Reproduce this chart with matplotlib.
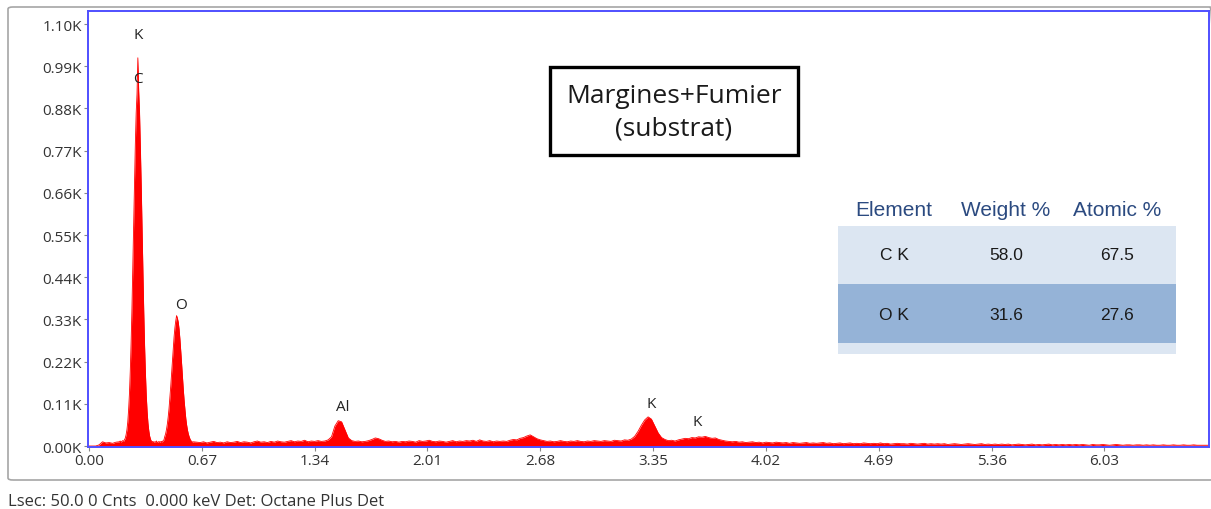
import numpy as np
import matplotlib
matplotlib.use("Agg")
import matplotlib.pyplot as plt
from matplotlib.patches import Rectangle, FancyBboxPatch

# ---------------- data ----------------
# spectrum segments: (start keV, step keV, counts in K)
seg1_start, seg1_step = 0.00, 0.02
seg1_counts = [0, 0, 0, 0.003, 0.011, 0.008, 0.009, 0.007, 0.010]

seg2_start, seg2_step = 0.18, 0.005
seg2_counts = [
    0.011, 0.013, 0.010, 0.012, 0.014, 0.012, 0.016, 0.020, 0.029, 0.042,
    0.062, 0.094, 0.136, 0.195, 0.270, 0.360, 0.462, 0.575, 0.685, 0.786,
    0.868, 0.918, 1.012, 0.925, 0.870, 0.780, 0.680, 0.568, 0.455, 0.352,
    0.262, 0.190, 0.132, 0.090, 0.060, 0.040, 0.026, 0.018, 0.013, 0.011,
    0.012, 0.009, 0.011, 0.010, 0.013, 0.010, 0.009, 0.012, 0.010, 0.011,
    0.012, 0.010, 0.014, 0.016,
    0.025, 0.032, 0.043, 0.057, 0.075, 0.097, 0.124, 0.154, 0.186, 0.221,
    0.254, 0.284, 0.308, 0.326, 0.340, 0.333, 0.323, 0.304, 0.278, 0.247,
    0.214, 0.180, 0.147, 0.118, 0.093, 0.071, 0.054, 0.041, 0.031, 0.024,
    0.018, 0.014, 0.012, 0.010, 0.011,
]

seg3_start, seg3_step = 0.64, 0.02
seg3_counts = [
    0.010, 0.009, 0.011, 0.008, 0.010, 0.012, 0.009, 0.010, 0.008, 0.011,
    0.009, 0.010, 0.012, 0.009, 0.011, 0.010, 0.008, 0.011, 0.013, 0.010,
    0.011, 0.009, 0.012, 0.010, 0.013, 0.011, 0.010, 0.012, 0.014, 0.011,
    0.013, 0.012, 0.015, 0.011, 0.013, 0.012, 0.014, 0.012, 0.013, 0.016,
    0.024, 0.052, 0.066, 0.063, 0.042, 0.021, 0.014, 0.012, 0.013, 0.011,
    0.012, 0.014, 0.017, 0.021, 0.019, 0.015, 0.012, 0.013, 0.011, 0.012,
    0.010, 0.012, 0.011, 0.013, 0.012, 0.010, 0.014, 0.012, 0.013, 0.015,
    0.012, 0.011, 0.013, 0.012, 0.010, 0.012, 0.014, 0.011, 0.013, 0.012,
    0.014, 0.013, 0.015, 0.012, 0.016, 0.013, 0.012, 0.014, 0.011, 0.013,
    0.012, 0.013, 0.012, 0.015, 0.017, 0.016, 0.020, 0.022, 0.026, 0.029,
    0.024, 0.019, 0.016, 0.014, 0.012, 0.013, 0.011, 0.012, 0.014, 0.012,
    0.011, 0.013, 0.012, 0.014, 0.012, 0.011, 0.013, 0.012, 0.014, 0.013,
    0.012, 0.014, 0.013, 0.012, 0.015, 0.014, 0.013, 0.016, 0.015, 0.018,
    0.025, 0.038, 0.054, 0.068, 0.076, 0.070, 0.052, 0.034, 0.022, 0.017,
    0.014, 0.015, 0.013, 0.016, 0.018, 0.020, 0.019, 0.022, 0.021, 0.024,
    0.023, 0.025, 0.022, 0.020, 0.021, 0.017, 0.015, 0.013, 0.012, 0.011,
    0.012, 0.010, 0.011, 0.009, 0.010, 0.011, 0.009, 0.010, 0.008, 0.010,
    0.009, 0.008, 0.010, 0.009, 0.008, 0.009, 0.007, 0.009, 0.008, 0.007,
    0.008, 0.009, 0.007, 0.008, 0.007, 0.008, 0.009, 0.007, 0.008, 0.006,
    0.007, 0.008, 0.006, 0.007, 0.008, 0.006, 0.007, 0.006, 0.008, 0.007,
    0.006, 0.007, 0.006, 0.008, 0.006, 0.007, 0.005, 0.006, 0.007, 0.006,
    0.006, 0.005, 0.007, 0.006, 0.005, 0.006, 0.007, 0.005, 0.006, 0.005,
    0.006, 0.005, 0.006, 0.004, 0.005, 0.006, 0.005, 0.004, 0.005, 0.006,
    0.005, 0.004, 0.005, 0.006, 0.004, 0.005, 0.004, 0.005, 0.004, 0.005,
    0.004, 0.005, 0.003, 0.004, 0.005, 0.004, 0.003, 0.004, 0.005, 0.003,
    0.004, 0.003, 0.004, 0.005, 0.003, 0.004, 0.003, 0.004, 0.003, 0.004,
    0.003, 0.004, 0.003, 0.004, 0.003, 0.002, 0.004, 0.003, 0.003, 0.004,
    0.003, 0.002, 0.003, 0.004, 0.003, 0.002, 0.003, 0.003, 0.002, 0.003,
    0.003, 0.002, 0.003, 0.002, 0.003, 0.002, 0.002, 0.003, 0.002, 0.002,
    0.003, 0.002, 0.002, 0.003, 0.002, 0.002, 0.003, 0.002, 0.002, 0.002,
    0.002, 0.002,
]

x_ticks = [0.00, 0.67, 1.34, 2.01, 2.68, 3.35, 4.02, 4.69, 5.36, 6.03]
y_ticks = [0.00, 0.11, 0.22, 0.33, 0.44, 0.55, 0.66, 0.77, 0.88, 0.99, 1.10]

peak_labels = ["K", "C", "O", "Al", "K", "K"]
peak_x = [0.291, 0.291, 0.546, 1.508, 3.337, 3.61]
peak_y = [1.074, 0.957, 0.368, 0.104, 0.110, 0.063]

table_header = ["Element", "Weight %", "Atomic %"]
table_elements = ["C K", "O K"]
table_weight = ["58.0", "31.6"]
table_atomic = ["67.5", "27.6"]

title_text = "Margines+Fumier\n(substrat)"
footer_text = "Lsec: 50.0 0 Cnts  0.000 keV Det: Octane Plus Det"

# ---------------- build spectrum ----------------
def seg(start, step, counts):
    e = start + step * np.arange(len(counts))
    return e, np.array(counts, dtype=float)

e1, c1 = seg(seg1_start, seg1_step, seg1_counts)
e2, c2 = seg(seg2_start, seg2_step, seg2_counts)
e3, c3 = seg(seg3_start, seg3_step, seg3_counts)
energy = np.concatenate([e1, e2, e3])
counts = np.concatenate([c1, c2, c3])

# ---------------- figure ----------------
W, H = 1211, 510
fig = plt.figure(figsize=(W / 100, H / 100), dpi=100)
fig.patch.set_facecolor("white")

def fx(px):
    return px / W

def fy(py):
    return 1 - py / H

# outer frame
frame = FancyBboxPatch((fx(8), fy(481)), fx(1215) - fx(8), fy(8) - fy(481),
                       boxstyle="round,pad=0,rounding_size=0.004",
                       transform=fig.transFigure, fill=False,
                       edgecolor="#a6a6a6", linewidth=1.2, clip_on=False)
fig.add_artist(frame)

ax_l, ax_r, ax_t, ax_b = 88, 1209, 12, 448
ax = fig.add_axes([fx(ax_l), fy(ax_b), fx(ax_r) - fx(ax_l), fy(ax_t) - fy(ax_b)])

ax.fill_between(energy, counts, 0, color="#ff0000", linewidth=0)
ax.plot(energy, counts, color="#ff0000", linewidth=0.6)

ax.set_xlim(-0.006, 6.651)
ax.set_ylim(-0.0026, 1.134)

tick_font = dict(family="Open Sans", size=11, color="#333333")
ax.set_xticks(x_ticks)
ax.set_xticklabels([f"{v:.2f}" for v in x_ticks], **tick_font)
ax.set_yticks(y_ticks)
ax.set_yticklabels([f"{v:.2f}K" for v in y_ticks], **tick_font)
ax.tick_params(axis="both", direction="out", length=3, width=0.8,
               color="#888888", pad=1.5)

for s in ax.spines.values():
    s.set_color("#4f4fff")
    s.set_linewidth(1.4)

for lab, x, y in zip(peak_labels, peak_x, peak_y):
    ax.text(x, y, lab, ha="center", va="center", family="Open Sans",
            fontsize=11, color="#222222")

# title box
fig.add_artist(Rectangle((fx(550), fy(156)), fx(798) - fx(550), fy(68) - fy(156),
                         transform=fig.transFigure, fill=True, facecolor="white",
                         edgecolor="black", linewidth=2.4))
fig.text(fx(674), fy(113), title_text, ha="center", va="center",
         family="Open Sans", fontsize=19, color="#1a1a1a", linespacing=1.38)

# table
tx0, tx1 = 838, 1176
fig.add_artist(Rectangle((fx(tx0), fy(285)), fx(tx1) - fx(tx0), fy(227) - fy(285),
                         transform=fig.transFigure, facecolor="#dce6f2", edgecolor="none"))
fig.add_artist(Rectangle((fx(tx0), fy(344)), fx(tx1) - fx(tx0), fy(285) - fy(344),
                         transform=fig.transFigure, facecolor="#95b3d7", edgecolor="none"))
fig.add_artist(Rectangle((fx(tx0), fy(355)), fx(tx1) - fx(tx0), fy(344) - fy(355),
                         transform=fig.transFigure, facecolor="#dce6f2", edgecolor="none"))

col_x = [894, 1006, 1117]
for cx, h in zip(col_x, table_header):
    fig.text(fx(cx), fy(211), h, ha="center", va="center", family="Liberation Sans",
             fontsize=15, color="#2b4a80")
row_y = [256, 315]
for ry, el, w, a in zip(row_y, table_elements, table_weight, table_atomic):
    for cx, t in zip(col_x, [el, w, a]):
        fig.text(fx(cx), fy(ry), t, ha="center", va="center", family="Liberation Sans",
                 fontsize=12.5, color="#1a1a1a")

fig.text(fx(8), fy(502), footer_text, ha="left", va="center",
         family="Open Sans", fontsize=12, color="#333333")

fig.savefig("out.png", dpi=100)
